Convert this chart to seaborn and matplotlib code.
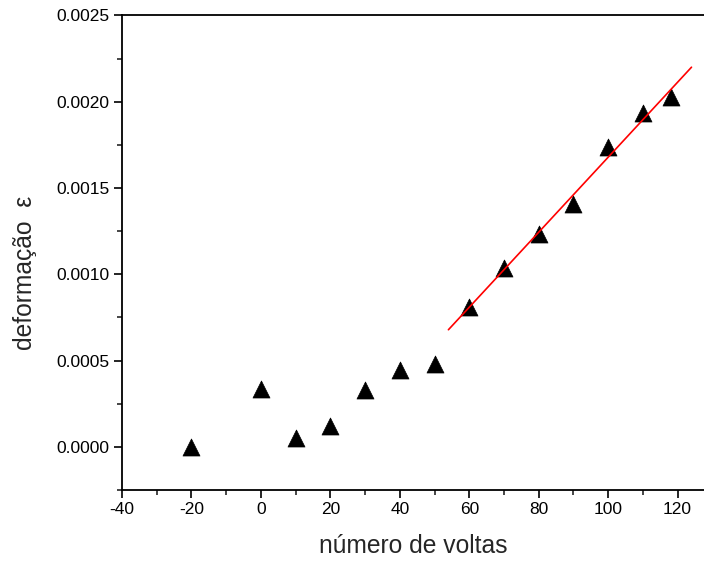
import numpy as np
import pandas as pd
import matplotlib
matplotlib.use("Agg")
import matplotlib.pyplot as plt
from matplotlib.ticker import MultipleLocator, FormatStrFormatter
import seaborn as sns

# Measured strain versus number of turns
voltas = [-20, 0, 10, 20, 30, 40, 50, 60, 70, 80, 90, 100, 110, 118]
deformacao = [0.0000, 0.000334, 0.000049, 0.000120, 0.000331, 0.000446, 0.000482,
              0.000808, 0.001038, 0.001235, 0.001407, 0.001738, 0.001933, 0.002026]

# Linear fit over the upper part of the curve, drawn across this range
fit_from = 60
fit_range = [54, 124]

x_ticks = [-40, -20, 0, 20, 40, 60, 80, 100, 120]
y_ticks = [0.0000, 0.0005, 0.0010, 0.0015, 0.0020, 0.0025]

sns.set_style("ticks")
plt.rcParams["font.family"] = ["Liberation Sans", "DejaVu Sans"]
plt.rcParams["axes.unicode_minus"] = False

fig = plt.figure(figsize=(7.04, 5.63), dpi=100)
ax = fig.add_axes([0.1733, 0.1297, 0.8267, 0.8428])

df = pd.DataFrame({"voltas": voltas, "deformacao": deformacao})
sns.scatterplot(data=df, x="voltas", y="deformacao", marker="^", s=150,
                color="black", edgecolor="black", linewidth=0.5, ax=ax, zorder=3)

sel = df[df["voltas"] >= fit_from]
slope, intercept = np.polyfit(sel["voltas"], sel["deformacao"], 1)
fx = np.array(fit_range, dtype=float)
fit_df = pd.DataFrame({"x": fx, "y": slope * fx + intercept})
sns.lineplot(data=fit_df, x="x", y="y", color="red", linewidth=1.2, ax=ax, zorder=4)

ax.set_xlim(-40, 127.6)
ax.set_ylim(-0.00025, 0.0025)
ax.set_xticks(x_ticks)
ax.set_yticks(y_ticks)
ax.xaxis.set_minor_locator(MultipleLocator(10))
ax.yaxis.set_minor_locator(MultipleLocator(0.00025))
ax.yaxis.set_major_formatter(FormatStrFormatter("%.4f"))

ax.tick_params(axis="both", which="major", direction="out", length=6, width=1.2,
               labelsize=12.5, colors="black", pad=3)
ax.tick_params(axis="both", which="minor", direction="out", length=3.5, width=1.2)

for side in ["left", "bottom", "top"]:
    ax.spines[side].set_visible(True)
    ax.spines[side].set_linewidth(1.3)
    ax.spines[side].set_color("black")
ax.spines["right"].set_visible(False)
ax.tick_params(top=False, right=False, which="both")

ax.set_xlabel("número de voltas", fontsize=17.7, labelpad=12)
ax.set_ylabel("deformação  ε", fontsize=17.7, labelpad=14, y=0.457)

fig.savefig("out.png", dpi=100)
